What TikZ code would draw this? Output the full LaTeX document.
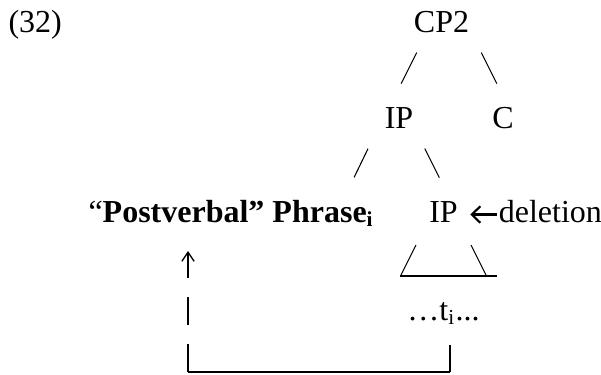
\documentclass[tikz,border=0pt]{standalone}
\usepackage{fontspec}
\setmainfont{Liberation Serif}
\usetikzlibrary{positioning, calc, arrows.meta}

\tikzset{
  cat/.style={inner sep=0pt, anchor=base, font=\fontsize{12}{14}\selectfont},
  branch/.style={line width=0.4pt, shorten <=8.6pt, shorten >=18.6pt},
  roof/.style={line width=0.4pt},
  link/.style={line width=0.5pt},
  underbar/.style={line width=0.75pt},
  delarrow/.style={line width=0.8pt,
    -{Straight Barb[length=3.2pt, width=6.2pt, line width=0.8pt]},
    shorten <=0.6pt, shorten >=4.5pt},
}

\begin{document}
\begin{tikzpicture}[x=0.375pt, y=-0.375pt]
\useasboundingbox (0,0) rectangle (601,374);

% Tree nodes
\node[cat, anchor=base west] (num) at (8,32) {(32)};
\node[cat] (cp2) at (441.5,32) {CP2};
\node[cat] (ip) at (399,128) {IP};
\node[cat] (c) at (503,128) {C};
\node[cat, anchor=base west] (phrase) at (88,222) {“\textbf{Postverbal” Phrase\textsubscript{i}}};
\node[cat] (ip2) at (443.5,222) {IP};
\node[cat, right=15pt of ip2] (del) {deletion};
\node[cat] (trace) at (443.5,320) {…t\textsubscript{i}...};

% Branches
\draw[branch] ([shift={(-14.5,0)}]cp2.base) -- ([shift={(-20,0)}]ip.base);
\draw[branch] ([shift={(29.5,0)}]cp2.base) -- ([shift={(16,0)}]c.base);
\draw[branch] ([shift={(-21,0)}]ip.base) -- ([shift={(-42,0)}]phrase.base east);
\draw[branch] ([shift={(15.5,0)}]ip.base) -- ([shift={(18,0)}]ip2.base);

% Roof over the deleted IP
\draw[roof] ([shift={(-27.5,23)}]ip2.base) -- ++(-15,30);
\draw[roof] ([shift={(27.5,23)}]ip2.base) -- ++(15,30);
\draw[underbar] ([shift={(-43.5,54)}]ip2.base) -- ++(97,0);

\draw[delarrow] ([shift={(0,3)}]del.west) -- ([shift={(0,3)}]ip2.east);

% Movement of the phrase out of IP
\coordinate (foot) at (188,372);
\coordinate (tfoot) at (450,372);
\draw[link] (tfoot) -- ($(trace.base -| tfoot)+(0,25)$);
\draw[underbar] (foot) -- (tfoot);
\draw[link, dash pattern=on 10.5pt off 7.1pt, -{Straight Barb[length=3.4pt, width=4.6pt]}]
  (foot) -- ($(phrase.base -| foot)+(0,29)$);
\end{tikzpicture}
\end{document}
